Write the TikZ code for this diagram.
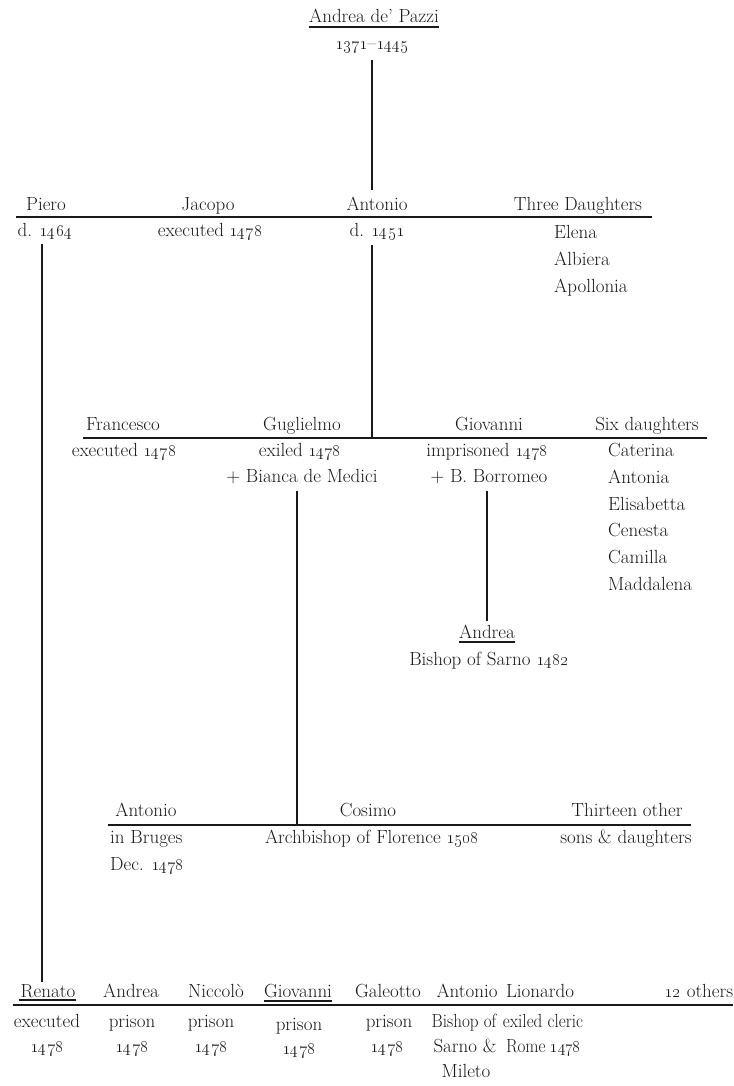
\documentclass[tikz,border=0pt]{standalone}
\newcommand\os[1]{\oldstylenums{#1}}
\newcommand\narrow[1]{\scalebox{0.9}[1]{#1}}
\definecolor{ink}{gray}{0.1}
\tikzset{
  lab/.style={inner sep=0pt, anchor=base, text=ink, font=\fontsize{19}{23}\selectfont},
  llab/.style={lab, anchor=base west},
  bar/.style={draw=ink, line width=2pt},
  stem/.style={draw=ink, line width=1.6pt},
  uline/.style={draw=ink, line width=1.2pt}
}
\begin{document}
\begin{tikzpicture}[x=1pt,y=-1pt]
\useasboundingbox (0,0) rectangle (733,1086);

% ---------- generation 1
\node[lab] (pazzi) at (374,23) {Andrea de’ Pazzi};
\node[lab] (pazzid) at (372,50) {\os{1371}–\os{1445}};
\draw[uline] ([yshift=-4pt]pazzi.base west) -- ([yshift=-4pt]pazzi.base east);
\coordinate (t1) at (372,60);
\coordinate (t1b) at (372,190);

% ---------- generation 2
\coordinate (g2L) at (16,217);
\coordinate (g2R) at (652,217);
\draw[bar] (g2L) -- (g2R);
\draw[stem] (t1) -- (t1b);

\node[lab] (piero) at (46,210) {Piero};
\node[lab] (pierod) at (45,236) {d. \os{1464}};
\node[lab] (jacopo) at (208,210) {Jacopo};
\node[lab] (jacopod) at (210,236) {executed \os{1478}};
\node[lab] (antonioA) at (377,210) {Antonio};
\node[lab] (antonioAd) at (377,236) {d. \os{1451}};
\node[lab] (threed) at (578,210) {Three Daughters};
\node[llab] (elena) at (554,238) {Elena};
\node[llab] (albiera) at (554,265) {Albiera};
\node[llab] (apollonia) at (554,292) {Apollonia};

% ---------- generation 3
\coordinate (pieroTop) at (42,244);
\coordinate (antTop) at (372,245);
\coordinate (g3L) at (83,438);
\coordinate (g3R) at (707,438);
\coordinate (g3m) at (372,438);
\draw[bar] (g3L) -- (g3R);
\draw[stem] (antTop) -- (g3m);

\node[lab] (francesco) at (123,430) {Francesco};
\node[lab] (francescod) at (124,456) {executed \os{1478}};
\node[lab] (guglielmo) at (302,430) {Guglielmo};
\node[lab] (guglielmod) at (300,456) {exiled \os{1478}};
\node[lab] (bianca) at (302,482) {+ Bianca de Medici};
\node[lab] (giovanniA) at (489,430) {Giovanni};
\node[lab] (giovanniAd) at (487,456) {imprisoned \os{1478}};
\node[lab] (borromeo) at (489,482) {+ B. Borromeo};
\node[lab] (sixd) at (647,430) {Six daughters};
\node[llab] (caterina) at (608,456) {Caterina};
\node[llab] (antonia) at (608,483) {Antonia};
\node[llab] (elisabetta) at (608,510) {Elisabetta};
\node[llab] (cenesta) at (608,536) {Cenesta};
\node[llab] (camilla) at (608,563) {Camilla};
\node[llab] (maddalena) at (608,590) {Maddalena};

% ---------- Giovanni's son
\coordinate (gioTop) at (487,491);
\coordinate (gioBot) at (487,621);
\draw[stem] (gioTop) -- (gioBot);
\node[lab] (andreaB) at (487,638) {Andrea};
\draw[uline] ([yshift=-4pt]andreaB.base west) -- ([yshift=-4pt]andreaB.base east);
\node[lab] (bishopB) at (489,665) {Bishop of Sarno \os{1482}};

% ---------- generation 4 (Guglielmo's children)
\coordinate (gugTop) at (297,491);
\coordinate (g4L) at (108,825);
\coordinate (g4R) at (691,825);
\coordinate (g4m) at (297,825);
\draw[bar] (g4L) -- (g4R);
\draw[stem] (gugTop) -- (g4m);

\node[lab] (antonioC) at (146,816) {Antonio};
\node[llab] (bruges) at (110,843) {in Bruges};
\node[llab] (decC) at (110,870) {Dec. \os{1478}};
\node[lab] (cosimo) at (368,816) {Cosimo};
\node[lab] (archb) at (372,843) {Archbishop of Florence \os{1508}};
\node[lab] (thirteen) at (627,816) {Thirteen other};
\node[lab] (sons) at (626,843) {sons \& daughters};

% ---------- Piero's children
\coordinate (pieroBot) at (42,982);
\draw[stem] (pieroTop) -- (pieroBot);
\coordinate (g5L) at (13,1005);
\coordinate (g5R) at (733,1005);
\draw[bar] (g5L) -- (g5R);

\node[lab] (renato) at (48,997) {Renato};
\draw[uline] ([xshift=-2pt,yshift=-3pt]renato.base west) -- ([xshift=1pt,yshift=-3pt]renato.base east);
\node[lab] (andreaD) at (131,997) {Andrea};
\node[lab] (niccolo) at (216,997) {Niccolò};
\node[lab] (giovanniD) at (298,997) {Giovanni};
\draw[uline] ([yshift=-4pt]giovanniD.base west) -- ([yshift=-4pt]giovanniD.base east);
\node[lab] (galeotto) at (388,997) {Galeotto};
\node[lab] (antonioD) at (467,997) {Antonio};
\node[lab] (lionardo) at (540,997) {Lionardo};
\node[lab] (others) at (699,997) {\os{12} others};

\node[lab] (renato1) at (47,1027) {executed};
\node[lab] (renato2) at (47,1052) {\os{1478}};
\node[lab] (andreaD1) at (132,1027) {prison};
\node[lab] (andreaD2) at (132,1052) {\os{1478}};
\node[lab] (niccolo1) at (211,1027) {prison};
\node[lab] (niccolo2) at (211,1052) {\os{1478}};
\node[lab] (giovanniD1) at (299,1030) {prison};
\node[lab] (giovanniD2) at (299,1054) {\os{1478}};
\node[lab] (galeotto1) at (389,1027) {prison};
\node[lab] (galeotto2) at (387,1052) {\os{1478}};
\node[lab] (antonioD1) at (464,1027) {\narrow{Bishop of}};
\node[lab] (antonioD2) at (465,1052) {Sarno \&};
\node[lab] (antonioD3) at (466,1077) {Mileto};
\node[lab] (lionardo1) at (543,1027) {\narrow{exiled cleric}};
\node[lab] (lionardo2) at (543,1052) {\narrow{Rome \os{1478}}};
\end{tikzpicture}
\end{document}
